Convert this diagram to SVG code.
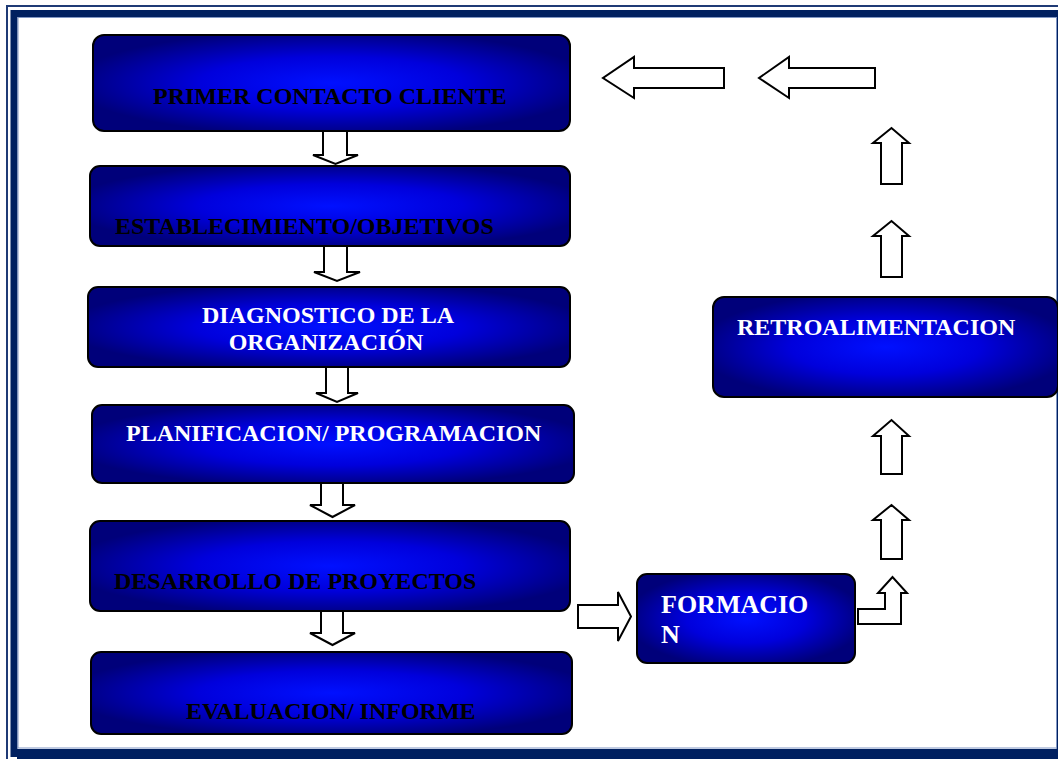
<svg xmlns="http://www.w3.org/2000/svg" width="1058" height="759" viewBox="0 0 1058 759">
  <defs>
    <radialGradient id="boxFill" cx="0.5" cy="0.5" r="0.55">
      <stop offset="0" stop-color="#0010ff"/>
      <stop offset="0.5" stop-color="#0000dc"/>
      <stop offset="1" stop-color="#00007a"/>
    </radialGradient>
    <style>
      .box { fill: url(#boxFill); stroke: #000; stroke-width: 2; }
      .lbl { font-family: "Liberation Serif", "Times New Roman", serif; font-weight: bold; font-size: 24px; }
      .dark { fill: #000; }
      .light { fill: #fff; }
      .arrow { fill: #fff; stroke: #000; stroke-width: 2; stroke-linejoin: miter; }
    </style>
  </defs>

  <rect x="0" y="0" width="1058" height="759" fill="#fff"/>

  <!-- page border: thin outer line, thick navy band, light inner edge -->
  <g id="frame" fill="none">
    <rect x="7" y="6" width="1070" height="770" stroke="#1f3a75" stroke-width="2"/>
    <rect x="14" y="13.5" width="1046" height="740" stroke="#002060" stroke-width="7"/>
    <rect x="17" y="749" width="1041" height="10" fill="#002060"/>
    <rect x="18" y="17.5" width="1038.5" height="730.5" stroke="#8096c4" stroke-width="1"/>
  </g>

  <!-- connectors: hollow block arrows -->
  <g id="connectors">
    <!-- downward flow on the left column -->
    <polygon class="arrow" points="323,131 347,131 347,155 358,155 335.5,164 313,155 323,155"/>
    <polygon class="arrow" points="324,246 347,246 347,272 360,272 337,281 314,272 324,272"/>
    <polygon class="arrow" points="326,367 348,367 348,393 358,393 337,402 316,393 326,393"/>
    <polygon class="arrow" points="321,483 343,483 343,505 355,505 332.5,517 310,505 321,505"/>
    <polygon class="arrow" points="321,611 343,611 343,633 355,633 332.5,645 310,633 321,633"/>
    <!-- to FORMACION -->
    <polygon class="arrow" points="578,605 618,605 618,592 631,616.5 618,641 618,628 578,628"/>
    <!-- bent arrow out of FORMACION -->
    <polygon class="arrow" points="858,609 885,609 885,593 878,593 892.5,577 907,593 901,593 901,624 858,624"/>
    <!-- upward flow on the right column -->
    <polygon class="arrow" points="881,559 881,520 873,520 891.5,505 909,520 902,520 902,559"/>
    <polygon class="arrow" points="881,474 881,436 873,436 891.5,420 909,436 902,436 902,474"/>
    <polygon class="arrow" points="881,277 881,236 873,236 891.5,221 909,236 902,236 902,277"/>
    <polygon class="arrow" points="881,184 881,143 873,143 891.5,128 909,143 902,143 902,184"/>
    <!-- return to the first step -->
    <polygon class="arrow" points="875,68 875,88 789,88 789,98 759,78 789,57 789,68"/>
    <polygon class="arrow" points="724,68 724,88 634,88 634,98 603,78 634,57 634,68"/>
  </g>

  <g id="primer-contacto">
    <rect class="box" x="93" y="35" width="477" height="96" rx="11"/>
    <text class="lbl dark" x="153" y="104">PRIMER CONTACTO CLIENTE</text>
  </g>

  <g id="establecimiento">
    <rect class="box" x="90" y="166" width="480" height="80" rx="10"/>
    <text class="lbl dark" x="115" y="234">ESTABLECIMIENTO/OBJETIVOS</text>
  </g>

  <g id="diagnostico">
    <rect class="box" x="88" y="287" width="482" height="80" rx="10"/>
    <text class="lbl light" text-anchor="middle" x="328" y="323">DIAGNOSTICO DE LA</text>
    <text class="lbl light" text-anchor="middle" x="326" y="350">ORGANIZACIÓN</text>
  </g>

  <g id="planificacion">
    <rect class="box" x="92" y="405" width="482" height="78" rx="10"/>
    <text class="lbl light" x="126" y="441">PLANIFICACION/ PROGRAMACION</text>
  </g>

  <g id="desarrollo">
    <rect class="box" x="90" y="521" width="480" height="90" rx="10"/>
    <text class="lbl dark" x="114" y="589">DESARROLLO DE PROYECTOS</text>
  </g>

  <g id="evaluacion">
    <rect class="box" x="91" y="652" width="481" height="82" rx="10"/>
    <text class="lbl dark" x="186" y="719">EVALUACION/ INFORME</text>
  </g>

  <g id="formacion">
    <rect class="box" x="637" y="574" width="218" height="89" rx="10"/>
    <text class="lbl light" style="font-size:26px" x="661" y="613">FORMACIO</text>
    <text class="lbl light" style="font-size:26px" x="661" y="643">N</text>
  </g>

  <g id="retroalimentacion">
    <rect class="box" x="713" y="297" width="345" height="100" rx="11"/>
    <text class="lbl light" x="737" y="335">RETROALIMENTACION</text>
  </g>
</svg>
